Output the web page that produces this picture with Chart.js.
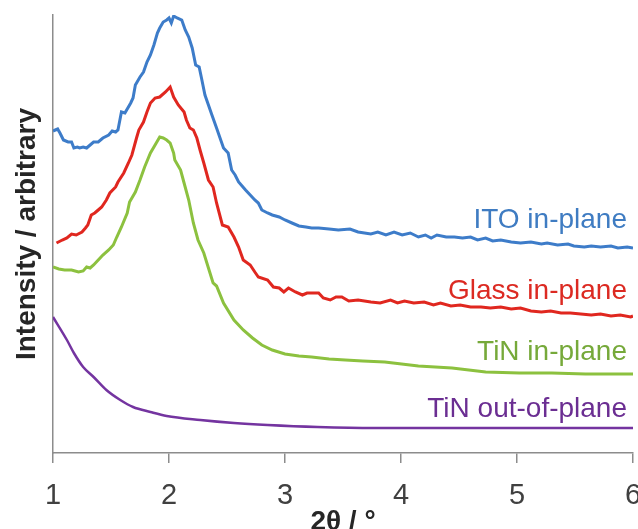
<!DOCTYPE html>
<html lang="en">
<head>
<meta charset="UTF-8" />
<title>XRD in-plane / out-of-plane</title>
<style>
  html, body { margin: 0; padding: 0; background: #fff; overflow: hidden; }
  .wrap { position: relative; width: 638px; height: 529px; }
</style>
</head>
<body>
<div class="wrap"><canvas id="xrd"></canvas></div>

<script src="https://cdn.jsdelivr.net/npm/chart.js"></script>
<script>
  // 2-theta positions (degrees) and intensities (arbitrary, offset per trace)
  const itoX = [1.00,1.04,1.06,1.09,1.13,1.16,1.18,1.21,1.23,1.26,1.29,1.32,1.35,1.39,1.43,1.48,1.51,1.54,1.56,1.59,
    1.62,1.67,1.69,1.71,1.75,1.78,1.81,1.84,1.87,1.90,1.92,1.95,1.98,2.00,2.02,2.04,2.07,2.11,2.14,2.17,
    2.20,2.23,2.26,2.28,2.31,2.34,2.37,2.41,2.44,2.47,2.51,2.54,2.57,2.60,2.66,2.70,2.74,2.77,2.80,2.85,
    2.89,2.95,3.00,3.06,3.12,3.18,3.23,3.29,3.38,3.46,3.56,3.63,
    3.74,3.80,3.87,3.94,4.01,4.08,4.15,4.21,4.26,4.31,4.39,4.46,4.53,4.60,4.66,4.73,4.79,4.86,4.95,5.03,
    5.12,5.21,5.26,5.35,5.44,5.49,5.58,5.64,5.72,5.81,5.87,5.95,6.00];
  const itoY = [322,324,320,313,311,311,305,306,305,306,305,308,311,311,315,318,322,321,323,341,
    340,350,355,368,376,381,391,398,408,420,425,431,433,435,430,437,435,433,423,416,
    405,388,386,375,358,348,338,325,315,305,300,283,278,271,263,258,253,250,243,240,
    238,236,233,230,227,226,225,225,224,223,224,221,
    219,221,218,221,218,220,216,218,215,218,216,216,215,216,213,215,212,213,211,210,
    211,209,210,208,209,207,206,207,206,207,205,206,205];

  const glassX = [1.03,1.08,1.12,1.16,1.20,1.25,1.28,1.30,1.33,1.36,1.39,1.42,1.46,1.49,1.54,1.56,1.61,1.65,1.68,1.72,
    1.74,1.78,1.81,1.84,1.88,1.92,1.97,2.01,2.04,2.08,2.13,2.15,2.18,2.21,2.24,2.27,2.30,2.34,2.38,2.41,
    2.46,2.51,2.56,2.60,2.64,2.70,2.74,2.77,2.85,2.90,2.95,2.99,3.03,3.09,3.15,3.19,3.23,3.29,3.33,3.39,
    3.44,3.49,3.55,3.63,
    3.74,3.82,3.91,3.97,4.03,4.11,4.20,4.28,4.34,4.43,4.51,4.60,4.69,4.77,4.86,4.95,5.03,5.12,5.21,5.29,
    5.38,5.46,5.55,5.64,5.72,5.81,5.89,5.98,6.00];
  const glassY = [210,213,215,219,218,221,225,228,238,240,243,246,253,260,266,271,280,290,298,315,
    323,331,341,350,355,356,361,366,356,348,341,333,325,323,315,302,290,273,266,250,
    228,226,216,206,193,188,181,176,173,166,165,161,165,161,158,160,160,160,155,153,
    156,156,152,153,
    151,150,153,150,152,150,151,148,150,147,148,146,146,145,146,144,145,142,141,142,
    140,140,139,138,139,137,138,136,137];

  const tinInX = [1.00,1.05,1.10,1.16,1.22,1.26,1.29,1.32,1.35,1.39,1.43,1.48,1.52,1.55,1.59,1.64,1.66,1.71,1.75,1.79,
    1.84,1.88,1.92,1.95,1.98,2.01,2.04,2.05,2.10,2.13,2.17,2.21,2.25,2.30,2.34,2.38,2.41,2.47,2.56,2.64,
    2.72,2.80,2.89,3.00,3.12,3.23,3.38,3.52,3.67,3.86,4.15,4.44,4.73,5.02,5.30,5.59,6.00];
  const tinInY = [186,184,183,183,181,182,186,185,188,193,198,203,208,216,226,240,251,261,273,286,
    300,308,316,315,313,310,300,293,283,270,253,230,213,200,185,170,167,150,133,123,
    115,108,103,99,97,96,94,93,92,91,87,85,81,80,80,79,79];

  const tinOutX = [1.00,1.12,1.18,1.26,1.35,1.46,1.58,1.69,1.84,1.98,2.27,2.56,2.85,3.28,3.77,4.43,5.29,6.00];
  const tinOutY = [136,113,100,86,76,63,53,46,41,37,33,30,28,26,25,25,25,25];

  const seriesNames = ['ITO in-plane', 'Glass in-plane', 'TiN in-plane', 'TiN out-of-plane'];
  const xTicks = [1, 2, 3, 4, 5, 6];

  const lineColors = ['#3d7cc9', '#e0271f', '#8cc13f', '#7434a0'];
  const textColors = ['#3f7cc2', '#dc2a22', '#76a93a', '#6b2e92'];
  // baseline of each trace name, in intensity units
  const nameBase = [225, 154, 93, 36];

  const toPoints = (xs, ys) => xs.map((x, i) => ({ x: x, y: ys[i] }));
  const traces = [[itoX, itoY], [glassX, glassY], [tinInX, tinInY], [tinOutX, tinOutY]];

  const datasets = traces.map((t, i) => ({
    label: seriesNames[i],
    data: toPoints(t[0], t[1]),
    borderColor: lineColors[i],
    backgroundColor: 'transparent',
    borderWidth: i === 3 ? 2.5 : 3,
    pointRadius: 0,
    tension: i === 3 ? 0.4 : 0,
    cubicInterpolationMode: i === 3 ? 'monotone' : 'default',
  }));

  // names written at the right end of each trace
  const traceNames = {
    id: 'traceNames',
    afterDatasetsDraw(chart) {
      const { ctx, chartArea, scales } = chart;
      ctx.save();
      ctx.font = '28px "Liberation Sans", Arial, sans-serif';
      ctx.textAlign = 'right';
      ctx.textBaseline = 'alphabetic';
      seriesNames.forEach((name, i) => {
        ctx.fillStyle = textColors[i];
        ctx.fillText(name, chartArea.right - 6, scales.y.getPixelForValue(nameBase[i]));
      });
      ctx.restore();
    }
  };

  const axisGrey = '#8c8c8c';

  new Chart(document.getElementById('xrd'), {
    type: 'line',
    data: { datasets: datasets },
    plugins: [traceNames],
    options: {
      responsive: true,
      maintainAspectRatio: false,
      animation: false,
      layout: { padding: { top: 15, right: 5, left: 0, bottom: 0 } },
      plugins: { legend: { display: false }, tooltip: { enabled: false } },
      scales: {
        x: {
          type: 'linear',
          min: 1,
          max: 6,
          afterBuildTicks: s => { s.ticks = xTicks.map(v => ({ value: v })); },
          afterFit: s => { s.height = 76; s.paddingLeft = 0; s.paddingRight = 0; },
          ticks: {
            color: '#404040',
            padding: 16,
            font: { family: '"Liberation Sans", Arial, sans-serif', size: 29 },
          },
          grid: {
            drawOnChartArea: false,
            drawTicks: true,
            tickLength: 10,
            color: axisGrey,
            lineWidth: 1.5,
          },
          border: { display: true, color: axisGrey, width: 1.5 },
          title: {
            display: true,
            text: '2θ / °',
            color: '#262626',
            font: { family: '"Liberation Sans", Arial, sans-serif', size: 28, weight: 'bold' },
            padding: { top: 0, bottom: -10 },
          },
        },
        y: {
          min: 0,
          max: 438,
          afterFit: s => { s.width = 53; s.paddingTop = 0; s.paddingBottom = 0; },
          ticks: { display: false },
          grid: { display: false },
          border: { display: true, color: axisGrey, width: 1.5 },
          title: {
            display: true,
            text: 'Intensity / arbitrary',
            color: '#262626',
            font: { family: '"Liberation Sans", Arial, sans-serif', size: 28, weight: 'bold' },
            padding: { top: 10, bottom: 0 },
          },
        },
      },
    },
  });
</script>
</body>
</html>
